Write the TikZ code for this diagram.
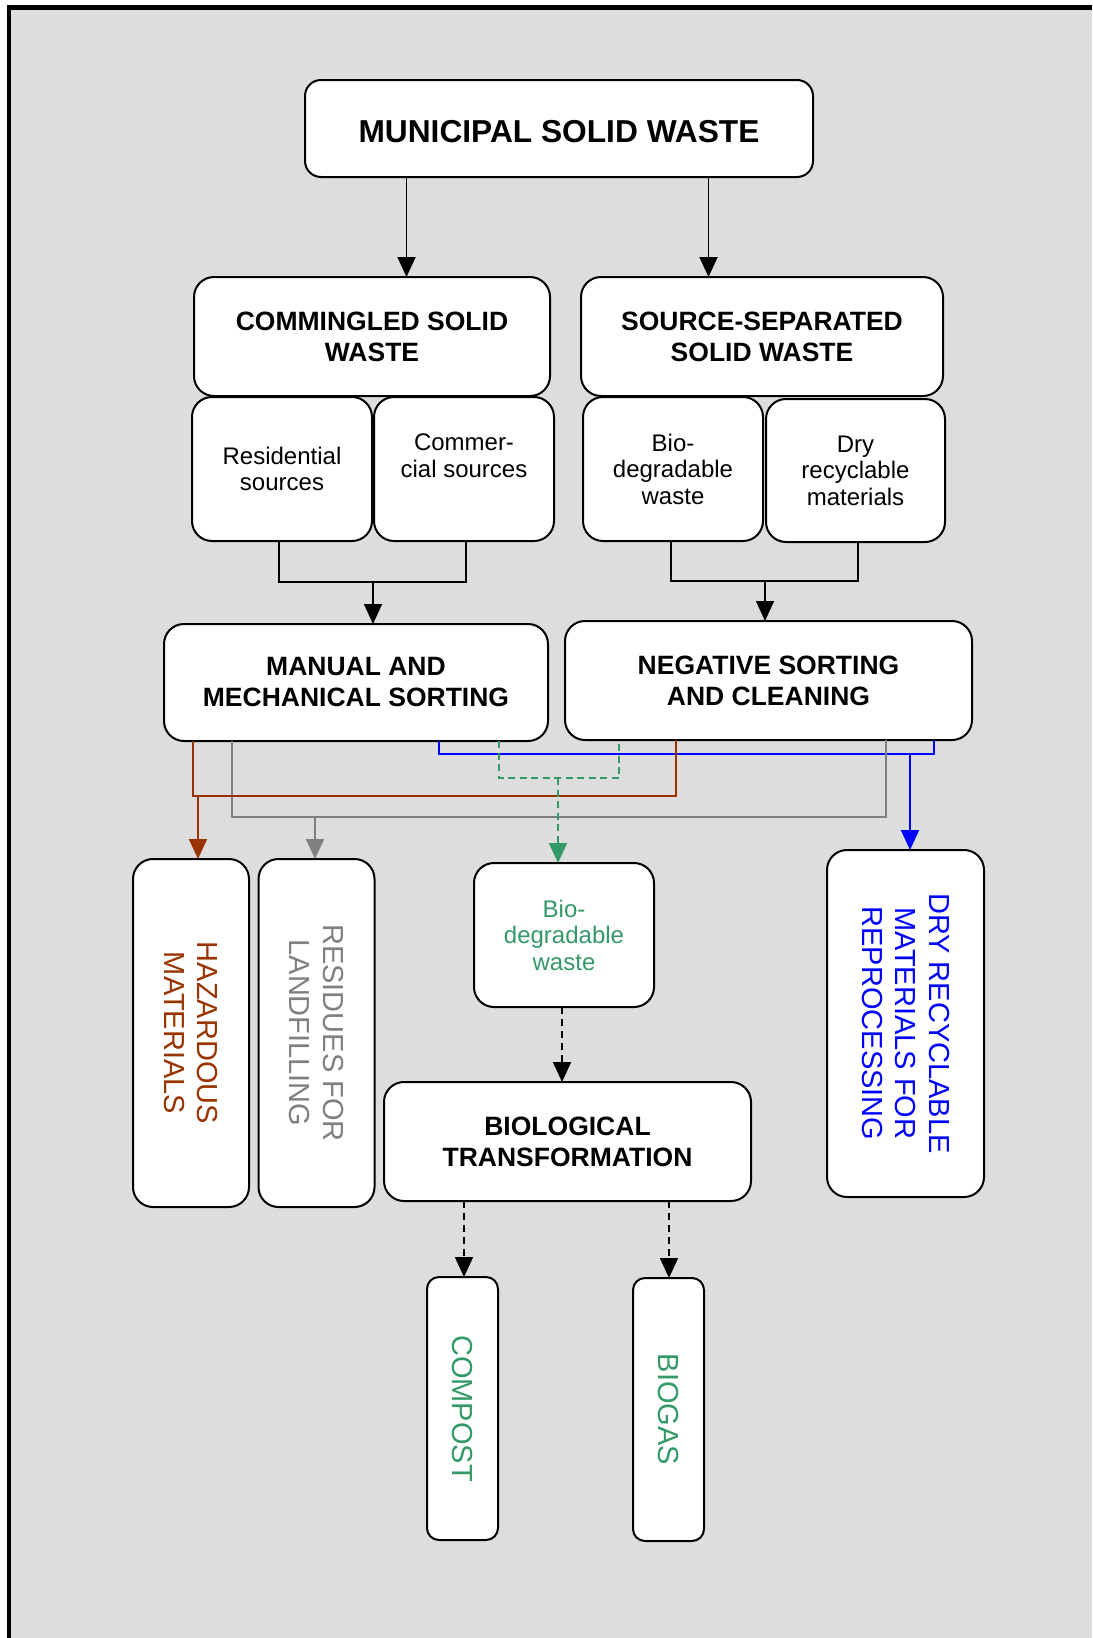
\documentclass[tikz,border=0pt]{standalone}
\usepackage{fontspec}
\setmainfont{Liberation Sans}
\usetikzlibrary{arrows.meta}
\definecolor{bgray}{HTML}{DDDDDD}
\definecolor{hazbrown}{HTML}{993300}
\definecolor{resgray}{HTML}{808080}
\definecolor{biogreen}{HTML}{339966}
\definecolor{dryblue}{HTML}{0000FF}
\begin{document}
\begin{tikzpicture}[x=1pt,y=-1pt,
  box/.style={draw=black, line width=2pt, fill=white, rounded corners=20pt,
    inner sep=0pt, outer sep=0pt, align=center},
  ftitle/.style={font=\fontsize{31.7pt}{38pt}\selectfont\bfseries,
    execute at begin node={\rule{0pt}{29pt}}},
  fhead/.style={font=\fontsize{26.5pt}{31pt}\selectfont\bfseries,
    execute at begin node={\rule{0pt}{33pt}}},
  fsmall/.style={font=\fontsize{24pt}{26.5pt}\selectfont},
  fbig/.style={font=\fontsize{29pt}{33.5pt}\selectfont},
  tip/.style={-{Triangle[length=20pt,width=18pt]}},
  blk/.style={draw=black, line width=1.9pt},
  bracket/.style={draw=black, line width=1.5pt},
  brownline/.style={draw=hazbrown, line width=1.8pt},
  grayline/.style={draw=resgray, line width=1.8pt},
  blueline/.style={draw=dryblue, line width=1.8pt},
  greenline/.style={draw=biogreen, line width=1.8pt, dash pattern=on 7pt off 4.5pt},
  dashblk/.style={draw=black, line width=1.8pt, dash pattern=on 7pt off 5pt}
]
\useasboundingbox (0,0) rectangle (1092,1638);
\fill[bgray] (10,9.5) rectangle (1092,1638);
\draw[line width=4.5pt] (9,1638) -- (9,7.5) -- (1092,7.5);

% top level
\node[box, ftitle, rounded corners=16pt, minimum width=508pt, minimum height=97pt] (msw) at (559,128.5) {MUNICIPAL SOLID WASTE};
\node[box, fhead, minimum width=356pt, minimum height=119pt] (comm) at (372,336.5) {COMMINGLED SOLID\\WASTE};
\node[box, fhead, minimum width=362pt, minimum height=119pt] (srcsep) at (762,336.5) {SOURCE-SEPARATED\\SOLID WASTE};

\node[box, fsmall, minimum width=180pt, minimum height=144pt] (res) at (282,469) {Residential\\sources};
\node[box, fsmall, minimum width=180pt, minimum height=144pt] (com) at (464,469) {Commer-\\cial sources\\\mbox{}};
\node[box, fsmall, minimum width=180pt, minimum height=144pt] (biot) at (673,469) {Bio-\\degradable\\waste};
\node[box, fsmall, minimum width=179pt, minimum height=143pt] (dry) at (855.5,470.5) {Dry\\recyclable\\materials};

\node[box, fhead, minimum width=384pt, minimum height=117pt] (manual) at (356,682.5) {MANUAL AND\\MECHANICAL SORTING};
\node[box, fhead, minimum width=407pt, minimum height=119pt] (negative) at (768.5,680.5) {NEGATIVE SORTING\\AND CLEANING};

% outputs
\node[box, fbig, text=hazbrown, rotate=-90, minimum width=348pt, minimum height=116pt] (haz) at (191,1033) {HAZARDOUS\\MATERIALS};
\node[box, fbig, text=resgray, rotate=-90, minimum width=348pt, minimum height=116pt] (resid) at (316.5,1033) {RESIDUES FOR\\LANDFILLING};
\node[box, fsmall, text=biogreen, minimum width=180pt, minimum height=144pt] (biog) at (564,935) {Bio-\\degradable\\waste};
\node[box, fbig, text=dryblue, rotate=-90, minimum width=347pt, minimum height=157pt] (dryrec) at (905.5,1023.5) {DRY RECYCLABLE\\MATERIALS FOR\\REPROCESSING};
\node[box, fhead, minimum width=367pt, minimum height=119pt] (biotr) at (567.5,1141.5) {BIOLOGICAL\\TRANSFORMATION};
\node[box, fbig, text=biogreen, rotate=-90, rounded corners=12pt, minimum width=263pt, minimum height=71pt] (compost) at (462.5,1408.5) {COMPOST};
\node[box, fbig, text=biogreen, rotate=-90, rounded corners=12pt, minimum width=263pt, minimum height=71pt] (biogas) at (668.5,1409.5) {BIOGAS};

% helper coordinates
\coordinate (xa) at (406.5,0);
\coordinate (xb) at (708.5,0);
\coordinate (l1) at (279,582);
\coordinate (l2) at (466,582);
\coordinate (lj) at (373,582);
\coordinate (r1) at (671,581);
\coordinate (r2) at (858,581);
\coordinate (rj) at (765,581);
\coordinate (bA) at (193,796);
\coordinate (bB) at (676,796);
\coordinate (bT) at (198,796);
\coordinate (gA) at (232,817);
\coordinate (gB) at (886,817);
\coordinate (gT) at (315,817);
\coordinate (uA) at (439,754);
\coordinate (uB) at (934,754);
\coordinate (uT) at (910,754);
\coordinate (eA) at (499,778);
\coordinate (eB) at (619,778);
\coordinate (eT) at (558,778);
\coordinate (xc) at (562,0);
\coordinate (xd) at (464,0);
\coordinate (xe) at (669,0);

% top arrows
\draw[blk, tip] (msw.south -| xa) -- (comm.north -| xa);
\draw[blk, tip] (msw.south -| xb) -- (srcsep.north -| xb);

% brackets
\draw[bracket] (res.south -| l1) -- (l1) -- (l2) -- (com.south -| l2);
\draw[bracket, tip] (lj) -- (manual.north -| lj);
\draw[bracket] (biot.south -| r1) -- (r1) -- (r2) -- (dry.south -| r2);
\draw[bracket, tip] (rj) -- (negative.north -| rj);

% coloured flows
\draw[blueline] (manual.south -| uA) -- (uA) -- (uB) -- (negative.south -| uB);
\draw[blueline, tip] (uT) -- (uT |- dryrec.west);
\draw[grayline] (manual.south -| gA) -- (gA) -- (gB) -- (negative.south -| gB);
\draw[grayline, tip] (gT) -- (gT |- resid.west);
\draw[brownline] (manual.south -| bA) -- (bA) -- (bB) -- (negative.south -| bB);
\draw[brownline, tip] (bT) -- (bT |- haz.west);
\draw[greenline] (manual.south -| eA) -- (eA) -- (eB) -- (negative.south -| eB);
\draw[greenline, tip] (eT) -- (eT |- biog.north);

% biological chain
\draw[dashblk, tip] (biog.south -| xc) -- (biotr.north -| xc);
\draw[dashblk, tip] (biotr.south -| xd) -- (xd |- compost.west);
\draw[dashblk, tip] (biotr.south -| xe) -- (xe |- biogas.west);
\end{tikzpicture}
\end{document}
